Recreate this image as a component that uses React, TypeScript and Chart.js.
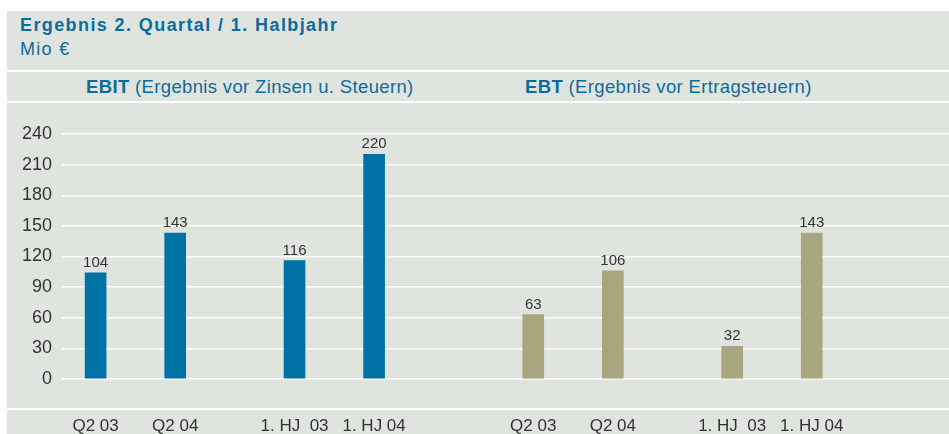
import { useEffect, useRef } from 'react';
import { Chart, registerables } from 'chart.js';

Chart.register(...registerables);

// ---- data ----
const categories = ['Q2 03', 'Q2 04', '1. HJ  03', '1. HJ 04'];
const ebitValues = [104, 143, 116, 220];
const ebtValues = [63, 106, 32, 143];
const yTickStep = 30;
const yMax = 240;

// ---- layout (slot spacing between categories, group starts) ----
const slotSteps = [0, 2, 3, 2];
const groupStarts = [0, 11];
const xMin = -0.845;
const xMax = 21.45;

const FONT = "'Liberation Sans', Arial, Helvetica, sans-serif";
const BG = '#dfe5de';
const BLUE_BAR = '#0072a5';
const KHAKI_BAR = '#a7a67f';
const TEXT_BLUE = '#0e6b9c';
const TEXT_GRAY = '#333333';

function groupPositions(start: number): number[] {
  const out: number[] = [];
  let acc = start;
  slotSteps.forEach((s) => {
    acc += s;
    out.push(acc);
  });
  return out;
}

const valueLabelPlugin = {
  id: 'valueLabels',
  afterDatasetsDraw(chart: any) {
    const ctx = chart.ctx;
    ctx.save();
    ctx.font = `15px ${FONT}`;
    ctx.fillStyle = TEXT_GRAY;
    ctx.textAlign = 'center';
    ctx.textBaseline = 'alphabetic';
    chart.data.datasets.forEach((ds: any, di: number) => {
      const meta = chart.getDatasetMeta(di);
      meta.data.forEach((bar: any, i: number) => {
        const v = ds.data[i].y;
        ctx.fillText(String(v), bar.x, bar.y - 6);
      });
    });
    ctx.restore();
  },
};

export default function App() {
  const canvasRef = useRef<HTMLCanvasElement | null>(null);

  useEffect(() => {
    if (!canvasRef.current) return;
    const ebitX = groupPositions(groupStarts[0]);
    const ebtX = groupPositions(groupStarts[1]);
    const tickMap = new Map<number, string>();
    ebitX.forEach((x, i) => tickMap.set(x, categories[i]));
    ebtX.forEach((x, i) => tickMap.set(x, categories[i]));
    const tickValues = [...ebitX, ...ebtX];

    const chart = new Chart(canvasRef.current, {
      type: 'bar',
      data: {
        datasets: [
          {
            label: 'EBIT',
            data: ebitValues.map((v, i) => ({ x: ebitX[i], y: v })),
            backgroundColor: BLUE_BAR,
            barThickness: 21,
            grouped: false,
          } as any,
          {
            label: 'EBT',
            data: ebtValues.map((v, i) => ({ x: ebtX[i], y: v })),
            backgroundColor: KHAKI_BAR,
            barThickness: 21,
            grouped: false,
          } as any,
        ],
      },
      options: {
        animation: false,
        responsive: false,
        maintainAspectRatio: false,
        layout: { padding: { top: 134, left: 0, right: 0, bottom: 0 } },
        plugins: {
          legend: { display: false },
          tooltip: { enabled: false },
          title: { display: false },
        },
        scales: {
          x: {
            type: 'linear',
            offset: false,
            min: xMin,
            max: xMax,
            grid: { display: false, drawTicks: false, offset: false },
            border: { display: false },
            afterBuildTicks: (scale: any) => {
              scale.ticks = tickValues.map((v) => ({ value: v }));
            },
            afterFit: (scale: any) => {
              scale.height = 55;
            },
            ticks: {
              autoSkip: false,
              maxRotation: 0,
              padding: 37,
              color: TEXT_GRAY,
              font: { family: FONT, size: 17 },
              callback: (v: any) => tickMap.get(Number(v)) ?? '',
            },
          },
          y: {
            min: 0,
            max: yMax,
            grid: { color: '#ffffff', lineWidth: 1.5, drawTicks: false },
            border: { display: false },
            afterFit: (scale: any) => {
              scale.width = 62;
            },
            ticks: {
              stepSize: yTickStep,
              padding: 10,
              color: TEXT_GRAY,
              font: { family: FONT, size: 18 },
            },
          },
        },
      },
      plugins: [valueLabelPlugin],
    });
    return () => chart.destroy();
  }, []);

  const line = (top: number) => (
    <div style={{ position: 'absolute', left: 7, right: 0, top, height: 2, background: '#ffffff' }} />
  );

  return (
    <div style={{ position: 'fixed', left: 0, top: 0, width: 949, height: 434, background: '#ffffff', overflow: 'hidden', fontFamily: FONT }}>
      <div style={{ position: 'absolute', left: 7, top: 11, right: 0, bottom: 0, background: BG }} />
      {line(70)}
      {line(101)}
      {line(408)}
      <div style={{ position: 'absolute', left: 20, top: 16, fontSize: 18, lineHeight: 1, fontWeight: 'bold', color: TEXT_BLUE, letterSpacing: 1.4, whiteSpace: 'nowrap' }}>
        Ergebnis 2. Quartal / 1. Halbjahr
      </div>
      <div style={{ position: 'absolute', left: 20, top: 40, fontSize: 18, lineHeight: 1, color: TEXT_BLUE, letterSpacing: 1.3, whiteSpace: 'nowrap' }}>
        Mio €
      </div>
      <div style={{ position: 'absolute', left: 86, top: 78, fontSize: 18.5, lineHeight: 1, color: TEXT_BLUE, letterSpacing: 0.35, whiteSpace: 'nowrap' }}>
        <b>EBIT</b> (Ergebnis vor Zinsen u. Steuern)
      </div>
      <div style={{ position: 'absolute', left: 525, top: 78, fontSize: 18.5, lineHeight: 1, color: TEXT_BLUE, letterSpacing: 0.35, whiteSpace: 'nowrap' }}>
        <b>EBT</b> (Ergebnis vor Ertragsteuern)
      </div>
      <canvas ref={canvasRef} width={949} height={434} style={{ position: 'absolute', left: 0, top: 0 }} />
    </div>
  );
}
